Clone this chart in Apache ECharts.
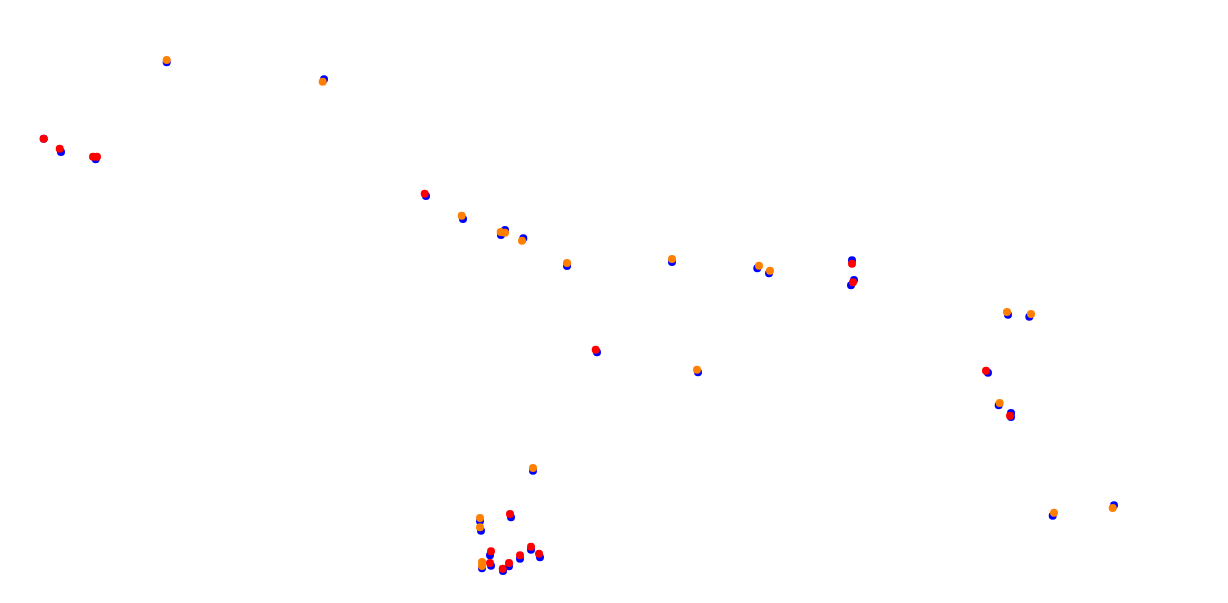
<!DOCTYPE html>
<html><head><meta charset="utf-8">
<script src="https://cdn.jsdelivr.net/npm/echarts@6/dist/echarts.min.js"></script>
<style>html,body{margin:0;padding:0;background:#fff}#c{width:1228px;height:603px}</style>
</head><body><div id="c"></div>
<script>
var bluePoints = [[166.7,62.3],[324,79.3],[43.7,138.7],[61,152],[95.7,159.3],[426,196],[463,219],[505,230],[501,235],[523.3,238.3],[567,266],[533,470.7],[480,521],[481,530.7],[511,517.3],[490,555.3],[491,565.7],[482,568.3],[503,571],[509,566.3],[520,558.7],[531,549.7],[540,557.3],[672,262],[757.3,268.3],[769,273.3],[852,260.3],[854,280],[851,285.3],[698,372.3],[1008,314.7],[1029.3,316.7],[988,372.7],[998.7,405.3],[1011,413],[1011,417],[1052.7,515.7],[1114,505.3],[597,352.3]];
var redPoints = [[43.7,138.7],[59.7,148.7],[93,156.7],[97,156.7],[424.7,193.7],[510,514],[491,551.3],[490,563],[502.7,568.7],[509,563],[520,555.3],[531,546.7],[539,553.7],[852,263.7],[853,282.3],[986,370.7],[1010,415.7],[595.7,349.7]];
var orangePoints = [[166.7,60],[322.7,81.7],[461.7,215.7],[500.7,232],[505,232.7],[522,240.7],[567,263],[533,468],[480,518],[480,527.3],[482,562],[482,566],[672,259],[759,265.7],[770,270.7],[697,369.7],[1007,312],[1031,314],[999.7,403],[1054,512.7],[1112.7,508]];
var chart = echarts.init(document.getElementById('c'));
chart.setOption({
  animation:false,
  backgroundColor:'#ffffff',
  grid:{left:0,right:0,top:0,bottom:0},
  xAxis:{type:'value',min:0,max:1228,show:false},
  yAxis:{type:'value',min:0,max:603,inverse:true,show:false},
  series:[
    {type:'scatter',data:bluePoints,symbolSize:8,itemStyle:{color:'#0000ff',opacity:1}},
    {type:'scatter',data:redPoints,symbolSize:8,itemStyle:{color:'#ff0000',opacity:1}},
    {type:'scatter',data:orangePoints,symbolSize:8,itemStyle:{color:'#ff8000',opacity:1}}
  ]
});
</script></body></html>
